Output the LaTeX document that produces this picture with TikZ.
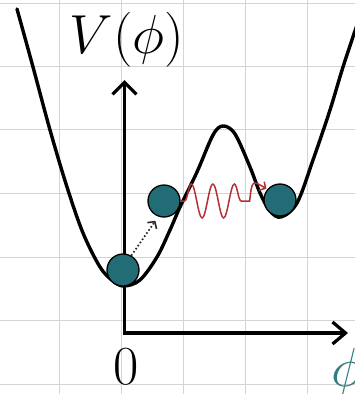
\RequirePackage{fix-cm}
\documentclass[tikz,border=0pt]{standalone}
\usetikzlibrary{arrows.meta,decorations.pathmorphing}
\definecolor{ballteal}{RGB}{34,108,118}
\definecolor{phiteal}{RGB}{50,125,130}
\definecolor{wavered}{RGB}{180,48,52}
\definecolor{gridgray}{RGB}{212,212,212}
\tikzset{
  gridline/.style={draw=gridgray, line width=1pt},
  potential/.style={draw=black, line width=3.4pt, line cap=round, line join=round},
  axisline/.style={draw=black, line width=3.4pt, line join=miter},
  ball/.style={circle, fill=ballteal, draw=black, line width=1.3pt, minimum size=32pt, inner sep=0pt},
  dotarrow/.style={draw=black!85, line width=1.7pt, dash pattern=on 1.6pt off 2.2pt,
    -{Straight Barb[length=5pt,width=11pt,line width=1.6pt]}},
  wavearrow/.style={draw=wavered, line width=1.5pt,
    -{Straight Barb[length=4.5pt,width=10pt,line width=1.5pt]}},
  lbl/.style={inner sep=0pt, font=\fontsize{55}{60}\selectfont}
}
\begin{document}
\begin{tikzpicture}[x=1pt,y=-1pt]
\useasboundingbox (0,0) rectangle (355,394);
\clip (0,0) rectangle (355,394);
% grid
\foreach \gx in {59,121,183,245,307} \draw[gridline] (\gx,0) -- (\gx,394);
\foreach \gy in {3,66,129,193,257,320,384} \draw[gridline] (0,\gy) -- (355,\gy);
% axes
\coordinate (ytip) at (124.5,80);
\coordinate (orig) at (124.5,333);
\coordinate (xtip) at (348,333);
\draw[axisline, {Straight Barb[length=12pt,width=24pt,line width=3.2pt]}-{Straight Barb[length=13pt,width=22pt,line width=3.2pt]}] (ytip) -- (orig) -- (xtip);
% potential
\draw[potential] plot[smooth, tension=0.55] coordinates {(17,9) (33,67) (50,130) (67,187) (83,233) (100,267) (113,281) (124,286) (140,280) (157,257) (170,230) (180,207) (197,172) (213,135) (223,126) (235,134) (250,167) (260,193) (270,211) (281,217) (297,203) (313,160) (330,110) (343,67) (358,22)};
% balls
\node[ball] (b1) at (123,270) {};
\node[ball] (b2) at (164,201) {};
\node[ball] (b3) at (280,200) {};
% connectors
\draw[dotarrow, shorten >=5pt] (b1.60) -- (b2.250);
\draw[wavearrow, shorten >=1pt] (b2.east) decorate[decoration={snake, segment length=21.5pt, amplitude=17pt, pre length=4pt, post length=0pt}] {-- ++(69,0)} .. controls (252,180) .. (b3.140);
% labels
\node[lbl, anchor=base] (vlab) at (127,53) {$V(\phi)$};
\node[lbl, anchor=base] (zero) at (126,384) {$0$};
\node[lbl, anchor=base west, text=phiteal] (philab) at (331,386) {$\phi$};
\end{tikzpicture}
\end{document}
